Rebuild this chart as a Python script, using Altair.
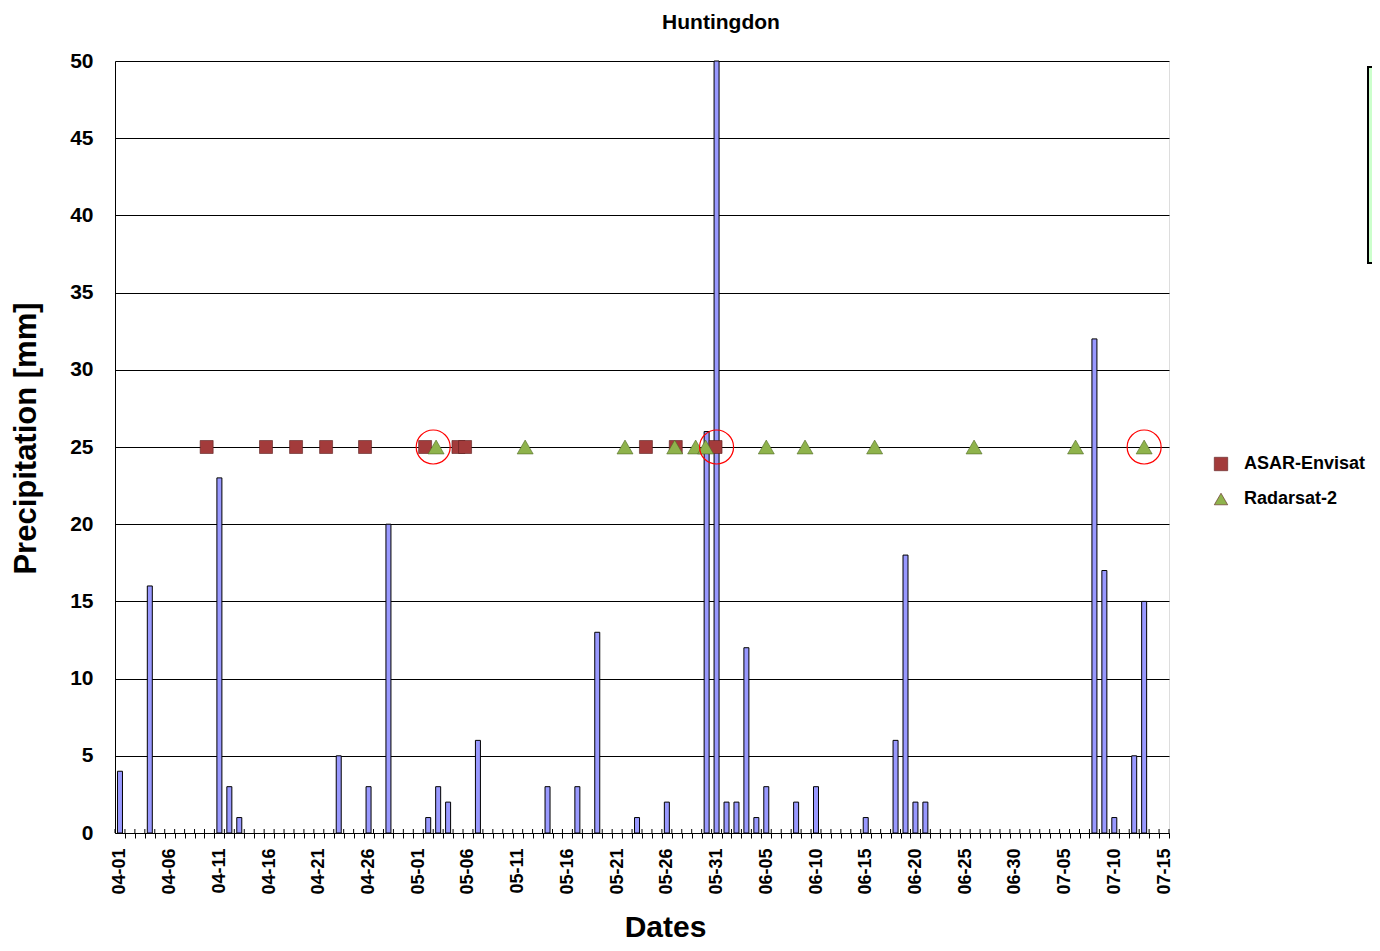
import altair as alt
import pandas as pd

YEAR = "2010"

# Daily precipitation (days not listed are 0 mm)
rain_dates = ["04-01", "04-04", "04-11", "04-12", "04-13", "04-23", "04-26", "04-28",
              "05-02", "05-03", "05-04", "05-07", "05-14", "05-17", "05-19", "05-23",
              "05-26", "05-30", "05-31", "06-01", "06-02", "06-03", "06-04", "06-05",
              "06-08", "06-10", "06-15", "06-18", "06-19", "06-20", "06-21",
              "07-08", "07-09", "07-10", "07-12", "07-13"]
rain_mm = [4, 16, 23, 3, 1, 5, 3, 20,
           1, 3, 2, 6, 3, 3, 13, 1,
           2, 26, 50, 2, 2, 12, 1, 3,
           2, 3, 1, 6, 18, 2, 2,
           32, 17, 1, 5, 15]

# Satellite acquisitions (plotted at a constant level)
asar_dates = ["04-09 17:15", "04-15 16:30", "04-18 17:00", "04-21 17:30", "04-25 15:30",
              "05-01 16:30", "05-05 01:00", "05-05 17:00", "05-23 21:30", "05-26 21:30",
              "05-30 21:30"]
radarsat_dates = ["05-02 19:00", "05-11 18:00", "05-21 19:00", "05-26 19:00", "05-28 21:30",
                  "05-29 21:30", "06-05 00:00", "06-08 21:30", "06-15 21:30", "06-25 21:30",
                  "07-06 02:30", "07-13 00:00"]
circle_dates = ["05-02 12:00", "05-31 00:00", "07-13 00:00"]
acq_level = 25

sensors = ["ASAR-Envisat", "Radarsat-2"]
tick_labels = ["04-01", "04-06", "04-11", "04-16", "04-21", "04-26", "05-01", "05-06",
               "05-11", "05-16", "05-21", "05-26", "05-31", "06-05", "06-10", "06-15",
               "06-20", "06-25", "06-30", "07-05", "07-10", "07-15"]
y_ticks = [0, 5, 10, 15, 20, 25, 30, 35, 40, 45, 50]

start = pd.Timestamp(f"{YEAR}-04-01")


def day_index(s):
    return (pd.Timestamp(f"{YEAR}-{s}") - start) / pd.Timedelta(days=1)


n_days = int(day_index(tick_labels[-1])) + 1

rain_df = pd.DataFrame({"day": [day_index(d) for d in rain_dates], "mm": rain_mm})
asar_df = pd.DataFrame({"day": [day_index(d) for d in asar_dates],
                        "mm": acq_level, "sensor": sensors[0]})
rs_df = pd.DataFrame({"day": [day_index(d) for d in radarsat_dates],
                      "mm": acq_level, "sensor": sensors[1]})
circ_df = pd.DataFrame({"day": [day_index(d) for d in circle_dates], "mm": acq_level})
bound_df = pd.DataFrame({"day": [i - 0.5 for i in range(n_days + 1)]})

W, H = 1054, 772
step = W / n_days
FONT = "Liberation Sans"

label_arr = "[" + ",".join(f"'{t}'" for t in tick_labels) + "]"

xscale = alt.Scale(domain=[-0.5, n_days - 0.5], nice=False, zero=False, padding=0)
yscale = alt.Scale(domain=[0, 50], nice=False, padding=0)

xaxis = alt.Axis(
    values=list(range(-1, n_days)),
    tickOffset=step / 2, labelOffset=-step / 2,
    labelExpr=f"(datum.value >= 0 && datum.value % 5 == 0) ? {label_arr}[datum.value / 5] : ''",
    labelAngle=270, labelFontSize=18, labelFontWeight="bold", labelFont=FONT,
    labelColor="black", labelPadding=10, labelOverlap=False, labelFlush=False,
    tickSize=5, tickColor="black", domainColor="black", grid=False,
    title="Dates", titleFontSize=30, titleFontWeight="bold", titleFont=FONT,
    titleColor="black", titleX=550, titleY=103, titleBaseline="alphabetic",
    titleAlign="center", titleAnchor="start",
)
yaxis = alt.Axis(
    values=y_ticks, tickSize=0, labelPadding=22, labelFontSize=21,
    labelFontWeight="bold", labelFont=FONT, labelColor="black",
    grid=True, gridColor="black", gridWidth=1, gridOpacity=1,
    domainColor="black",
    title="Precipitation [mm]", titleFontSize=31, titleFontWeight="bold",
    titleFont=FONT, titleColor="black", titleX=-80, titleY=377,
    titleAngle=270, titleBaseline="alphabetic", titleAlign="center", titleAnchor="start",
)

x_enc = alt.X("day:Q", scale=xscale, axis=xaxis)
y_enc = alt.Y("mm:Q", scale=yscale, axis=yaxis)

legend = alt.Legend(
    title=None, orient="none", legendX=1097, legendY=394, padding=0,
    labelFontSize=18, labelFontWeight="bold", labelFont=FONT, labelColor="black",
    labelOffset=14, rowPadding=17, symbolSize=180, symbolStrokeWidth=0.6,
)
color_enc = alt.Color("sensor:N", scale=alt.Scale(domain=sensors, range=["#a33b3b", "#8fb34c"]),
                      legend=legend)
shape_enc = alt.Shape("sensor:N", scale=alt.Scale(domain=sensors, range=["square", "triangle-up"]),
                      legend=legend)

inner_ticks = alt.Chart(bound_df).mark_rule(color="black", strokeWidth=1).encode(
    x=x_enc, y=alt.value(H - 4), y2=alt.value(H))

bars = alt.Chart(rain_df).mark_bar(size=5, color="#9999ff", stroke="black", strokeWidth=1).encode(
    x=x_enc, y=y_enc)

squares = alt.Chart(asar_df).mark_point(filled=True, size=169, opacity=1,
                                         stroke="#5a1e1e", strokeWidth=0.6).encode(
    x=x_enc, y=y_enc, color=color_enc, shape=shape_enc)

triangles = alt.Chart(rs_df).mark_point(filled=True, size=256, opacity=1,
                                         stroke="#4f6a25", strokeWidth=0.6).encode(
    x=x_enc, y=y_enc, color=color_enc, shape=shape_enc)

circles = alt.Chart(circ_df).mark_point(shape="circle", size=1156, filled=False, opacity=1,
                                         color="red", strokeWidth=1.2).encode(x=x_enc, y=y_enc)

box = alt.Chart(pd.DataFrame({"a": [0]})).mark_rect(
    fill="#ccffcc", stroke="black", strokeWidth=2).encode(
    x=alt.value(1253), x2=alt.value(1285), y=alt.value(6), y2=alt.value(202))

chart = alt.layer(inner_ticks, bars, squares, triangles, circles, box).properties(
    width=W, height=H,
    title=alt.TitleParams("Huntingdon", fontSize=21, fontWeight="bold", font=FONT,
                          color="black", anchor="middle", dx=79, offset=0,
                          baseline="alphabetic"),
    autosize=alt.AutoSizeParams(type="none"),
    padding={"left": 107, "top": 53, "right": 203, "bottom": 110},
).configure_view(stroke="#808080", strokeWidth=1).configure(font=FONT, background="white")

chart.save("out.html", embed_options={"renderer": "svg", "actions": False})
